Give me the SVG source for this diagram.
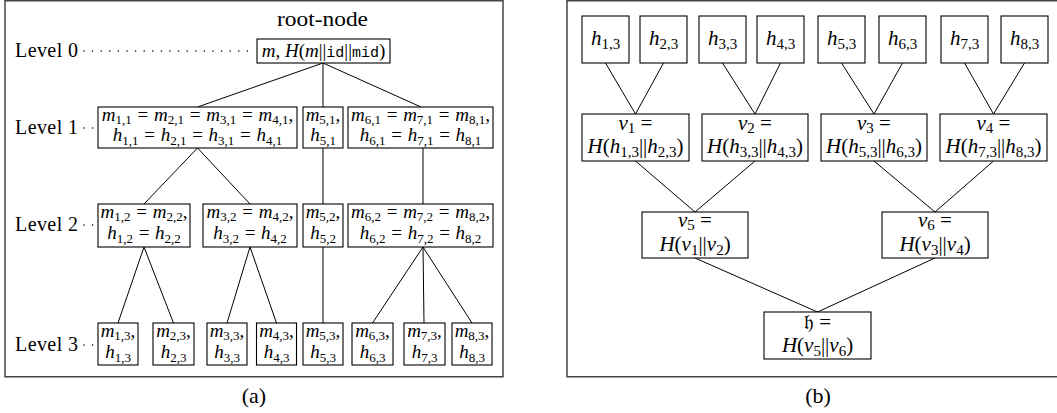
<svg xmlns="http://www.w3.org/2000/svg" width="1057" height="413" viewBox="0 0 1057 413">
<style>
.frame{fill:none;stroke:#444;stroke-width:1.5}
.box{fill:#fff;stroke:#000;stroke-width:1.1}
.edge{stroke:#000;stroke-width:1;fill:none}
.dots{stroke:#000;stroke-width:1.6;stroke-linecap:round;stroke-dasharray:0 8.6;fill:none}
.lbl{font-family:"Liberation Serif","Times New Roman","DejaVu Serif",serif;font-size:20px;fill:#000}
.cap{font-family:"Liberation Serif","Times New Roman","DejaVu Serif",serif;font-size:22px;fill:#000;text-anchor:middle}
.mt{font-family:"Liberation Serif","Times New Roman","DejaVu Serif",serif;font-size:19px;text-anchor:middle;fill:#000}
.mr{font-family:"Liberation Serif","Times New Roman","DejaVu Serif",serif;font-size:21px;text-anchor:middle;fill:#000}
.i{font-style:italic}
.mt .s{font-size:13px}
.mr .s{font-size:15px}
.tt{font-family:"Liberation Mono","DejaVu Sans Mono",monospace;font-size:15px}
.fk{font-family:"DejaVu Sans","DejaVu Serif","Noto Sans",serif}
</style>

<!-- Panel (a) -->
<rect class="frame" x="5" y="0.75" width="498" height="376"/>
<text class="cap" x="254" y="403">(a)</text>
<text class="lbl" x="277" y="26" textLength="91" lengthAdjust="spacingAndGlyphs">root-node</text>

<g id="levels">
<text class="lbl" x="15" y="57" textLength="63">Level 0</text>
<text class="lbl" x="15" y="134" textLength="63">Level 1</text>
<text class="lbl" x="15" y="231" textLength="63">Level 2</text>
<text class="lbl" x="15" y="351" textLength="63">Level 3</text>
<path class="dots" d="M84 51H255M84 128H97M84 225H97M84 345H97"/>
</g>

<g id="connectors-a">
<path class="edge" d="M323 63L197.5 107M323 63V107M323 63L421 107"/>
<path class="edge" d="M197.5 148L144 204M197.5 148L250 204M323 148V204M423 148V204"/>
<path class="edge" d="M144 247L118 323M144 247L173.5 323M250 247L227 323M250 247L276.5 323M323 247V323M423 247L372.5 323M423 247L424 323M423 247L472 323"/>
</g>

<g id="root">
<rect class="box" x="257" y="39" width="133" height="24"/>
<text class="mt" x="323.5" y="57"><tspan class="i">m</tspan>, <tspan class="i">H</tspan>(<tspan class="i">m</tspan>||<tspan class="tt">id</tspan>||<tspan class="tt">mid</tspan>)</text>
</g>

<g id="n1-1234">
<rect class="box" x="98" y="107" width="199" height="41"/>
<text class="mt" x="197.5" y="121" word-spacing="1"><tspan class="i">m</tspan><tspan class="s" dy="3">1,1</tspan><tspan dy="-3"> = </tspan><tspan class="i">m</tspan><tspan class="s" dy="3">2,1</tspan><tspan dy="-3"> = </tspan><tspan class="i">m</tspan><tspan class="s" dy="3">3,1</tspan><tspan dy="-3"> = </tspan><tspan class="i">m</tspan><tspan class="s" dy="3">4,1</tspan><tspan dy="-3">,</tspan></text>
<text class="mt" x="197.5" y="141" word-spacing="1"><tspan class="i">h</tspan><tspan class="s" dy="3.5">1,1</tspan><tspan dy="-3.5"> = </tspan><tspan class="i">h</tspan><tspan class="s" dy="3.5">2,1</tspan><tspan dy="-3.5"> = </tspan><tspan class="i">h</tspan><tspan class="s" dy="3.5">3,1</tspan><tspan dy="-3.5"> = </tspan><tspan class="i">h</tspan><tspan class="s" dy="3.5">4,1</tspan></text>
</g>
<g id="n1-5">
<rect class="box" x="303" y="107" width="40" height="41"/>
<text class="mt" x="323" y="121"><tspan class="i">m</tspan><tspan class="s" dy="3">5,1</tspan><tspan dy="-3">,</tspan></text>
<text class="mt" x="323" y="141"><tspan class="i">h</tspan><tspan class="s" dy="3.5">5,1</tspan></text>
</g>
<g id="n1-678">
<rect class="box" x="348" y="107" width="145" height="41"/>
<text class="mt" x="420.5" y="121" word-spacing="1"><tspan class="i">m</tspan><tspan class="s" dy="3">6,1</tspan><tspan dy="-3"> = </tspan><tspan class="i">m</tspan><tspan class="s" dy="3">7,1</tspan><tspan dy="-3"> = </tspan><tspan class="i">m</tspan><tspan class="s" dy="3">8,1</tspan><tspan dy="-3">,</tspan></text>
<text class="mt" x="420.5" y="141" word-spacing="1"><tspan class="i">h</tspan><tspan class="s" dy="3.5">6,1</tspan><tspan dy="-3.5"> = </tspan><tspan class="i">h</tspan><tspan class="s" dy="3.5">7,1</tspan><tspan dy="-3.5"> = </tspan><tspan class="i">h</tspan><tspan class="s" dy="3.5">8,1</tspan></text>
</g>

<g id="n2-12">
<rect class="box" x="98" y="204" width="92" height="43"/>
<text class="mt" x="144" y="218" word-spacing="1"><tspan class="i">m</tspan><tspan class="s" dy="3">1,2</tspan><tspan dy="-3"> = </tspan><tspan class="i">m</tspan><tspan class="s" dy="3">2,2</tspan><tspan dy="-3">,</tspan></text>
<text class="mt" x="144" y="239" word-spacing="1"><tspan class="i">h</tspan><tspan class="s" dy="3.5">1,2</tspan><tspan dy="-3.5"> = </tspan><tspan class="i">h</tspan><tspan class="s" dy="3.5">2,2</tspan></text>
</g>
<g id="n2-34">
<rect class="box" x="203" y="204" width="94" height="43"/>
<text class="mt" x="250" y="218" word-spacing="1"><tspan class="i">m</tspan><tspan class="s" dy="3">3,2</tspan><tspan dy="-3"> = </tspan><tspan class="i">m</tspan><tspan class="s" dy="3">4,2</tspan><tspan dy="-3">,</tspan></text>
<text class="mt" x="250" y="239" word-spacing="1"><tspan class="i">h</tspan><tspan class="s" dy="3.5">3,2</tspan><tspan dy="-3.5"> = </tspan><tspan class="i">h</tspan><tspan class="s" dy="3.5">4,2</tspan></text>
</g>
<g id="n2-5">
<rect class="box" x="303" y="204" width="40" height="43"/>
<text class="mt" x="323" y="218"><tspan class="i">m</tspan><tspan class="s" dy="3">5,2</tspan><tspan dy="-3">,</tspan></text>
<text class="mt" x="323" y="239"><tspan class="i">h</tspan><tspan class="s" dy="3.5">5,2</tspan></text>
</g>
<g id="n2-678">
<rect class="box" x="348" y="204" width="145" height="43"/>
<text class="mt" x="420.5" y="218" word-spacing="1"><tspan class="i">m</tspan><tspan class="s" dy="3">6,2</tspan><tspan dy="-3"> = </tspan><tspan class="i">m</tspan><tspan class="s" dy="3">7,2</tspan><tspan dy="-3"> = </tspan><tspan class="i">m</tspan><tspan class="s" dy="3">8,2</tspan><tspan dy="-3">,</tspan></text>
<text class="mt" x="420.5" y="239" word-spacing="1"><tspan class="i">h</tspan><tspan class="s" dy="3.5">6,2</tspan><tspan dy="-3.5"> = </tspan><tspan class="i">h</tspan><tspan class="s" dy="3.5">7,2</tspan><tspan dy="-3.5"> = </tspan><tspan class="i">h</tspan><tspan class="s" dy="3.5">8,2</tspan></text>
</g>

<g id="n3-1"><rect class="box" x="98" y="323" width="40" height="42"/><text class="mt" x="118" y="337"><tspan class="i">m</tspan><tspan class="s" dy="3">1,3</tspan><tspan dy="-3">,</tspan></text><text class="mt" x="118" y="358"><tspan class="i">h</tspan><tspan class="s" dy="3.5">1,3</tspan></text></g>
<g id="n3-2"><rect class="box" x="153" y="323" width="41" height="42"/><text class="mt" x="173.5" y="337"><tspan class="i">m</tspan><tspan class="s" dy="3">2,3</tspan><tspan dy="-3">,</tspan></text><text class="mt" x="173.5" y="358"><tspan class="i">h</tspan><tspan class="s" dy="3.5">2,3</tspan></text></g>
<g id="n3-3"><rect class="box" x="207" y="323" width="40" height="42"/><text class="mt" x="227" y="337"><tspan class="i">m</tspan><tspan class="s" dy="3">3,3</tspan><tspan dy="-3">,</tspan></text><text class="mt" x="227" y="358"><tspan class="i">h</tspan><tspan class="s" dy="3.5">3,3</tspan></text></g>
<g id="n3-4"><rect class="box" x="256.5" y="323" width="40" height="42"/><text class="mt" x="276.5" y="337"><tspan class="i">m</tspan><tspan class="s" dy="3">4,3</tspan><tspan dy="-3">,</tspan></text><text class="mt" x="276.5" y="358"><tspan class="i">h</tspan><tspan class="s" dy="3.5">4,3</tspan></text></g>
<g id="n3-5"><rect class="box" x="303" y="323" width="40" height="42"/><text class="mt" x="323" y="337"><tspan class="i">m</tspan><tspan class="s" dy="3">5,3</tspan><tspan dy="-3">,</tspan></text><text class="mt" x="323" y="358"><tspan class="i">h</tspan><tspan class="s" dy="3.5">5,3</tspan></text></g>
<g id="n3-6"><rect class="box" x="352" y="323" width="41" height="42"/><text class="mt" x="372.5" y="337"><tspan class="i">m</tspan><tspan class="s" dy="3">6,3</tspan><tspan dy="-3">,</tspan></text><text class="mt" x="372.5" y="358"><tspan class="i">h</tspan><tspan class="s" dy="3.5">6,3</tspan></text></g>
<g id="n3-7"><rect class="box" x="404" y="323" width="41" height="42"/><text class="mt" x="424.5" y="337"><tspan class="i">m</tspan><tspan class="s" dy="3">7,3</tspan><tspan dy="-3">,</tspan></text><text class="mt" x="424.5" y="358"><tspan class="i">h</tspan><tspan class="s" dy="3.5">7,3</tspan></text></g>
<g id="n3-8"><rect class="box" x="452" y="323" width="40" height="42"/><text class="mt" x="472" y="337"><tspan class="i">m</tspan><tspan class="s" dy="3">8,3</tspan><tspan dy="-3">,</tspan></text><text class="mt" x="472" y="358"><tspan class="i">h</tspan><tspan class="s" dy="3.5">8,3</tspan></text></g>

<!-- Panel (b) -->
<rect class="frame" x="567" y="0.75" width="520" height="376"/>
<text class="cap" x="818" y="403">(b)</text>

<g id="connectors-b">
<path class="edge" d="M605.5 63L635.5 114M663.5 63L635.5 114M722.5 63L755 114M780.5 63L755 114M841.5 63L874 114M902.5 63L874 114M964.5 63L993.5 114M1024.5 63L993.5 114"/>
<path class="edge" d="M635.5 161L695 212M755 161L695 212M874 161L935 212M993.5 161L935 212"/>
<path class="edge" d="M695 258L817.5 312M935 258L817.5 312"/>
</g>

<g id="h1"><rect class="box" x="582" y="16" width="47" height="47"/><text class="mr" x="605.5" y="45"><tspan class="i">h</tspan><tspan class="s" dy="4">1,3</tspan></text></g>
<g id="h2"><rect class="box" x="640" y="16" width="47" height="47"/><text class="mr" x="663.5" y="45"><tspan class="i">h</tspan><tspan class="s" dy="4">2,3</tspan></text></g>
<g id="h3"><rect class="box" x="699" y="16" width="47" height="47"/><text class="mr" x="722.5" y="45"><tspan class="i">h</tspan><tspan class="s" dy="4">3,3</tspan></text></g>
<g id="h4"><rect class="box" x="757" y="16" width="47" height="47"/><text class="mr" x="780.5" y="45"><tspan class="i">h</tspan><tspan class="s" dy="4">4,3</tspan></text></g>
<g id="h5"><rect class="box" x="818" y="16" width="47" height="47"/><text class="mr" x="841.5" y="45"><tspan class="i">h</tspan><tspan class="s" dy="4">5,3</tspan></text></g>
<g id="h6"><rect class="box" x="879" y="16" width="47" height="47"/><text class="mr" x="902.5" y="45"><tspan class="i">h</tspan><tspan class="s" dy="4">6,3</tspan></text></g>
<g id="h7"><rect class="box" x="941" y="16" width="47" height="47"/><text class="mr" x="964.5" y="45"><tspan class="i">h</tspan><tspan class="s" dy="4">7,3</tspan></text></g>
<g id="h8"><rect class="box" x="1001" y="16" width="47" height="47"/><text class="mr" x="1024.5" y="45"><tspan class="i">h</tspan><tspan class="s" dy="4">8,3</tspan></text></g>

<g id="v1"><rect class="box" x="582" y="114" width="107" height="47"/><text class="mr" x="635.5" y="130"><tspan class="i">v</tspan><tspan class="s" dy="2.5">1</tspan><tspan dy="-2.5"> =</tspan></text><text class="mr" x="635.5" y="153"><tspan class="i">H</tspan>(<tspan class="i">h</tspan><tspan class="s" dy="3.5">1,3</tspan><tspan dy="-3.5">||</tspan><tspan class="i">h</tspan><tspan class="s" dy="3.5">2,3</tspan><tspan dy="-3.5">)</tspan></text></g>
<g id="v2"><rect class="box" x="702" y="114" width="106" height="47"/><text class="mr" x="755" y="130"><tspan class="i">v</tspan><tspan class="s" dy="2.5">2</tspan><tspan dy="-2.5"> =</tspan></text><text class="mr" x="755" y="153"><tspan class="i">H</tspan>(<tspan class="i">h</tspan><tspan class="s" dy="3.5">3,3</tspan><tspan dy="-3.5">||</tspan><tspan class="i">h</tspan><tspan class="s" dy="3.5">4,3</tspan><tspan dy="-3.5">)</tspan></text></g>
<g id="v3"><rect class="box" x="821" y="114" width="106" height="47"/><text class="mr" x="874" y="130"><tspan class="i">v</tspan><tspan class="s" dy="2.5">3</tspan><tspan dy="-2.5"> =</tspan></text><text class="mr" x="874" y="153"><tspan class="i">H</tspan>(<tspan class="i">h</tspan><tspan class="s" dy="3.5">5,3</tspan><tspan dy="-3.5">||</tspan><tspan class="i">h</tspan><tspan class="s" dy="3.5">6,3</tspan><tspan dy="-3.5">)</tspan></text></g>
<g id="v4"><rect class="box" x="940" y="114" width="107" height="47"/><text class="mr" x="993.5" y="130"><tspan class="i">v</tspan><tspan class="s" dy="2.5">4</tspan><tspan dy="-2.5"> =</tspan></text><text class="mr" x="993.5" y="153"><tspan class="i">H</tspan>(<tspan class="i">h</tspan><tspan class="s" dy="3.5">7,3</tspan><tspan dy="-3.5">||</tspan><tspan class="i">h</tspan><tspan class="s" dy="3.5">8,3</tspan><tspan dy="-3.5">)</tspan></text></g>

<g id="v5"><rect class="box" x="642" y="212" width="106" height="46"/><text class="mr" x="695" y="227"><tspan class="i">v</tspan><tspan class="s" dy="2.5">5</tspan><tspan dy="-2.5"> =</tspan></text><text class="mr" x="695" y="251"><tspan class="i">H</tspan>(<tspan class="i">v</tspan><tspan class="s" dy="3.5">1</tspan><tspan dy="-3.5">||</tspan><tspan class="i">v</tspan><tspan class="s" dy="3.5">2</tspan><tspan dy="-3.5">)</tspan></text></g>
<g id="v6"><rect class="box" x="882" y="212" width="106" height="46"/><text class="mr" x="935" y="227"><tspan class="i">v</tspan><tspan class="s" dy="2.5">6</tspan><tspan dy="-2.5"> =</tspan></text><text class="mr" x="935" y="251"><tspan class="i">H</tspan>(<tspan class="i">v</tspan><tspan class="s" dy="3.5">3</tspan><tspan dy="-3.5">||</tspan><tspan class="i">v</tspan><tspan class="s" dy="3.5">4</tspan><tspan dy="-3.5">)</tspan></text></g>

<g id="root-b"><rect class="box" x="764" y="312" width="107" height="47"/><text class="mr" x="817.5" y="329"><tspan class="fk">𝔥</tspan> =</text><text class="mr" x="817.5" y="352"><tspan class="i">H</tspan>(<tspan class="i">v</tspan><tspan class="s" dy="3.5">5</tspan><tspan dy="-3.5">||</tspan><tspan class="i">v</tspan><tspan class="s" dy="3.5">6</tspan><tspan dy="-3.5">)</tspan></text></g>
</svg>
